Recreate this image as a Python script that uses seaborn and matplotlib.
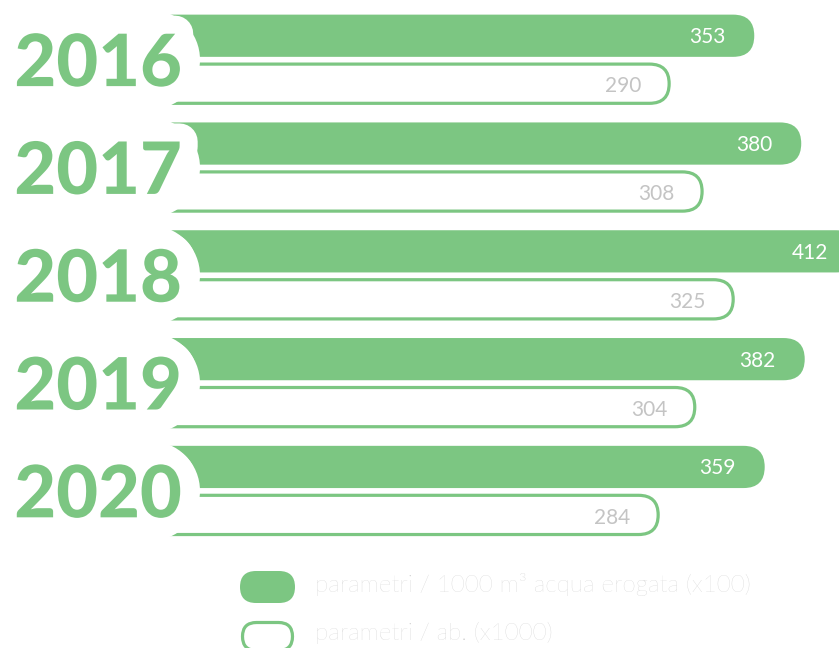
import numpy as np
import pandas as pd
import seaborn as sns
import matplotlib.pyplot as plt
import matplotlib.patheffects as pe
from matplotlib.patches import FancyBboxPatch, Circle
from matplotlib.transforms import IdentityTransform, blended_transform_factory

# ---- data ----
years = ["2016", "2017", "2018", "2019", "2020"]
per_m3 = [353, 380, 412, 382, 359]      # parametri / 1000 m3 acqua erogata (x100)
per_ab = [290, 308, 325, 304, 284]      # parametri / ab. (x1000)
series = ["parametri / 1000 m³ acqua erogata (x100)", "parametri / ab. (x1000)"]

GREEN = "#7cc682"
GREY_VAL = "#c4c4c4"
GREY_LEG = "#cbcbcb"

sns.set_theme(style="white")
plt.rcParams['font.family'] = ['Lato', 'DejaVu Sans']

df = pd.DataFrame({
    "anno": years * 2,
    "valore": per_m3 + per_ab,
    "serie": [series[0]] * len(years) + [series[1]] * len(years),
})

W, H = 839, 648
fig = plt.figure(figsize=(W / 100, H / 100), dpi=100)
fig.patch.set_facecolor("white")
ax = fig.add_axes([0, 0, 1, 1])

common = dict(data=df, x="valore", y="anno", hue="serie", hue_order=series, order=years,
              orient="h", width=0.89, gap=0.12, legend=False, errorbar=None,
              palette=[GREEN, GREEN])
# filled series measured on its own x scale, outline series on a twin x scale
sns.barplot(ax=ax, **common)
ax2 = ax.twiny()
sns.barplot(ax=ax2, **common)

ax.set_xlim(-80.5, 401.7)
ax2.set_xlim(-76.5, 382.0)
ax.set_ylim(5.457, -0.554)
for a in (ax, ax2):
    a.axis("off")


def rounded(a, p, filled):
    x0, y0 = p.get_x(), p.get_y()
    x1, y1 = x0 + p.get_width(), y0 + p.get_height()
    (dx0, dy0), (dx1, dy1) = a.transData.transform([(x0, y0), (x1, y1)])
    lx, rx = min(dx0, dx1), max(dx0, dx1)
    by, ty = min(dy0, dy1), max(dy0, dy1)
    h = ty - by
    if filled:
        fb = FancyBboxPatch((lx, by), rx - lx, h,
                            boxstyle=f"round,pad=0,rounding_size={h/2}",
                            transform=IdentityTransform(), facecolor=GREEN,
                            edgecolor="none", zorder=2, clip_on=False)
    else:
        inset = 1.5
        fb = FancyBboxPatch((lx + inset, by + inset), rx - lx - 2 * inset, h - 2 * inset,
                            boxstyle=f"round,pad=0,rounding_size={h/2 - inset}",
                            transform=IdentityTransform(), facecolor="white",
                            edgecolor=GREEN, linewidth=2.3, zorder=2, clip_on=False)
    a.add_patch(fb)
    p.set_visible(False)
    return (x1, (y0 + y1) / 2)


# ax: keep series 0 (filled), hide series 1
for p in ax.containers[1]:
    p.set_visible(False)
for p in ax.containers[0]:
    xe, yc = rounded(ax, p, True)
    ax.annotate(f"{p.get_width():.0f}", xy=(xe, yc), xytext=(-21, -1),
                textcoords="offset points", ha="right", va="center",
                color="white", fontsize=15, fontweight="normal", zorder=5,
                annotation_clip=False)

# ax2: keep series 1 (outline), hide series 0
for p in ax2.containers[0]:
    p.set_visible(False)
for p in ax2.containers[1]:
    xe, yc = rounded(ax2, p, False)
    ax2.annotate(f"{p.get_width():.0f}", xy=(xe, yc), xytext=(-21, -2),
                 textcoords="offset points", ha="right", va="center",
                 color=GREY_VAL, fontsize=15, fontweight="normal", zorder=5,
                 annotation_clip=False)

# year labels on a white round badge that hides the bar starts
tr = blended_transform_factory(ax2.transAxes, ax2.transData)
for i, y in enumerate(years):
    _, cy = ax2.transData.transform((0, i))
    ax2.add_patch(Circle((150, cy), 50, transform=IdentityTransform(),
                         facecolor="white", edgecolor="none", zorder=8, clip_on=False))
    ax2.annotate(y, xy=(0.117, i), xycoords=tr, xytext=(0, -19),
                 textcoords="offset points", ha="center", va="baseline",
                 fontsize=52, fontweight="black", color=GREEN, zorder=10,
                 path_effects=[pe.withStroke(linewidth=26, foreground="white")])

# legend
leg = [
    (240, 571, 55, 32, True, series[0], 585),
    (241, 621, 53, 31, False, series[1], 633),
]
for x, ytop, w, h, filled, label, yc in leg:
    by = H - ytop - h
    if filled:
        pch = FancyBboxPatch((x, by), w, h, boxstyle=f"round,pad=0,rounding_size={h/2}",
                             transform=IdentityTransform(), facecolor=GREEN,
                             edgecolor="none", zorder=3, clip_on=False)
    else:
        pch = FancyBboxPatch((x + 1.5, by + 1.5), w - 3, h - 3,
                             boxstyle=f"round,pad=0,rounding_size={h/2 - 1.5}",
                             transform=IdentityTransform(), facecolor="white",
                             edgecolor=GREEN, linewidth=2.3, zorder=3, clip_on=False)
    fig.add_artist(pch)
    fig.text(315 / W, 1 - yc / H, label, ha="left", va="center", fontsize=17.5,
             fontweight="light", color=GREY_LEG)

fig.savefig("out.png", dpi=100, facecolor="white")
